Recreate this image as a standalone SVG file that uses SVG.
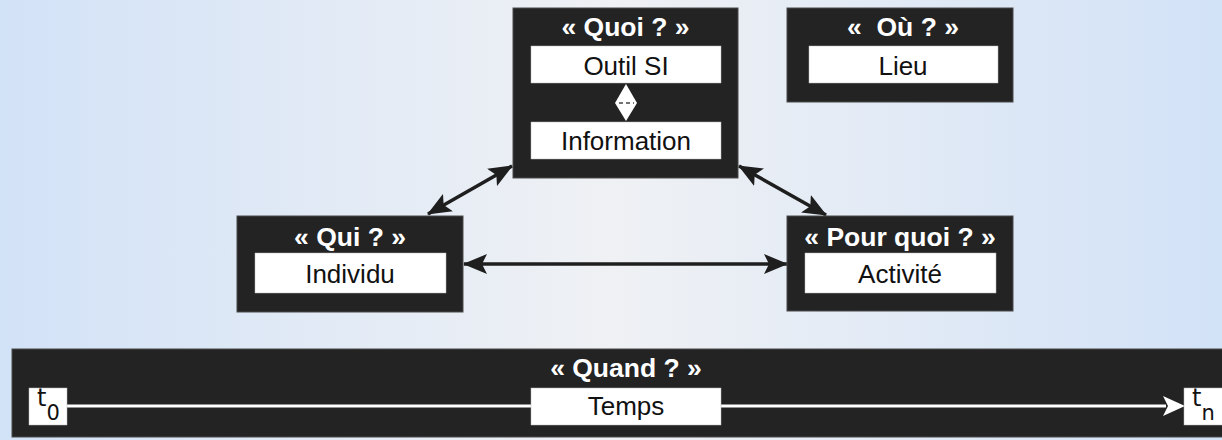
<svg xmlns="http://www.w3.org/2000/svg" width="1222" height="440" viewBox="0 0 1222 440">
  <defs>
    <linearGradient id="bg" x1="0" y1="0" x2="1" y2="0">
      <stop offset="0" stop-color="#d2e2f7"/>
      <stop offset="0.5" stop-color="#eff1f4"/>
      <stop offset="1" stop-color="#d2e2f7"/>
    </linearGradient>
    <marker id="ah" viewBox="0 0 24 20" refX="23" refY="10" markerWidth="24" markerHeight="20" markerUnits="userSpaceOnUse" orient="auto-start-reverse">
      <path d="M0,0 L24,10 L0,20 L5,10 z" fill="#1e1e1e"/>
    </marker>
  </defs>
  <style>
    .box { fill: #232323; stroke: #4a4a4a; stroke-width: 1; }
    .field { fill: #ffffff; stroke: #bbbbbb; stroke-width: 0.5; }
    .title { font-family: "Liberation Sans", Arial, sans-serif; font-size: 26.5px; font-weight: bold; fill: #ffffff; text-anchor: middle; }
    .label { font-family: "Liberation Sans", Arial, sans-serif; font-size: 26px; fill: #111111; text-anchor: middle; }
    .conn { stroke: #1e1e1e; stroke-width: 3.5; fill: none; }
    .t { font-family: "DejaVu Sans", sans-serif; fill: #111111; }
  </style>
  <rect x="0" y="0" width="1222" height="440" fill="url(#bg)"/>

  <g id="connectors">
    <line class="conn" x1="512" y1="166" x2="428" y2="214" marker-start="url(#ah)" marker-end="url(#ah)"/>
    <line class="conn" x1="739" y1="166" x2="826" y2="215" marker-start="url(#ah)" marker-end="url(#ah)"/>
    <line class="conn" x1="464" y1="264" x2="787" y2="264" marker-start="url(#ah)" marker-end="url(#ah)"/>
  </g>

  <g id="quoi">
    <rect class="box" x="513" y="8" width="225" height="170"/>
    <text class="title" x="625.5" y="36">« Quoi ? »</text>
    <rect class="field" x="531" y="46" width="190" height="37"/>
    <text class="label" x="626" y="75">Outil SI</text>
    <rect class="field" x="531" y="122" width="190" height="37"/>
    <text class="label" x="626" y="150">Information</text>
    <path d="M626,84 L637,103 L626,121 L615,103 z" fill="#ffffff"/>
    <line x1="619" y1="103" x2="634" y2="103" stroke="#444" stroke-width="1.5" stroke-dasharray="4,3"/>
  </g>

  <g id="ou">
    <rect class="box" x="787" y="8" width="226" height="94"/>
    <text class="title" x="903" y="36">«&#160; Où ? »</text>
    <rect class="field" x="809" y="46" width="189" height="37"/>
    <text class="label" x="903" y="75">Lieu</text>
  </g>

  <g id="qui">
    <rect class="box" x="237" y="216" width="226" height="96"/>
    <text class="title" x="350" y="246">« Qui ? »</text>
    <rect class="field" x="255" y="253" width="191" height="40"/>
    <text class="label" x="350" y="283">Individu</text>
  </g>

  <g id="pourquoi">
    <rect class="box" x="787" y="216" width="226" height="95"/>
    <text class="title" x="900" y="246">« Pour quoi ? »</text>
    <rect class="field" x="805" y="253" width="191" height="40"/>
    <text class="label" x="900" y="283">Activité</text>
  </g>

  <g id="quand">
    <rect class="box" x="12" y="349" width="1215" height="88"/>
    <text class="title" x="626" y="377">« Quand ? »</text>
    <line x1="67" y1="406" x2="1166" y2="406" stroke="#ffffff" stroke-width="3"/>
    <path d="M1163,396 L1185,406 L1163,416 L1168,406 z" fill="#ffffff"/>
    <rect class="field" x="531" y="388" width="190" height="37"/>
    <text class="label" x="626" y="415">Temps</text>
    <rect class="field" x="29" y="388" width="38" height="37"/>
    <text class="t" x="37" y="406" font-size="24">t<tspan font-size="21" dy="14">0</tspan></text>
    <rect class="field" x="1184" y="388" width="40" height="37"/>
    <text class="t" x="1192" y="406" font-size="24">t<tspan font-size="21" dy="14">n</tspan></text>
  </g>
</svg>
